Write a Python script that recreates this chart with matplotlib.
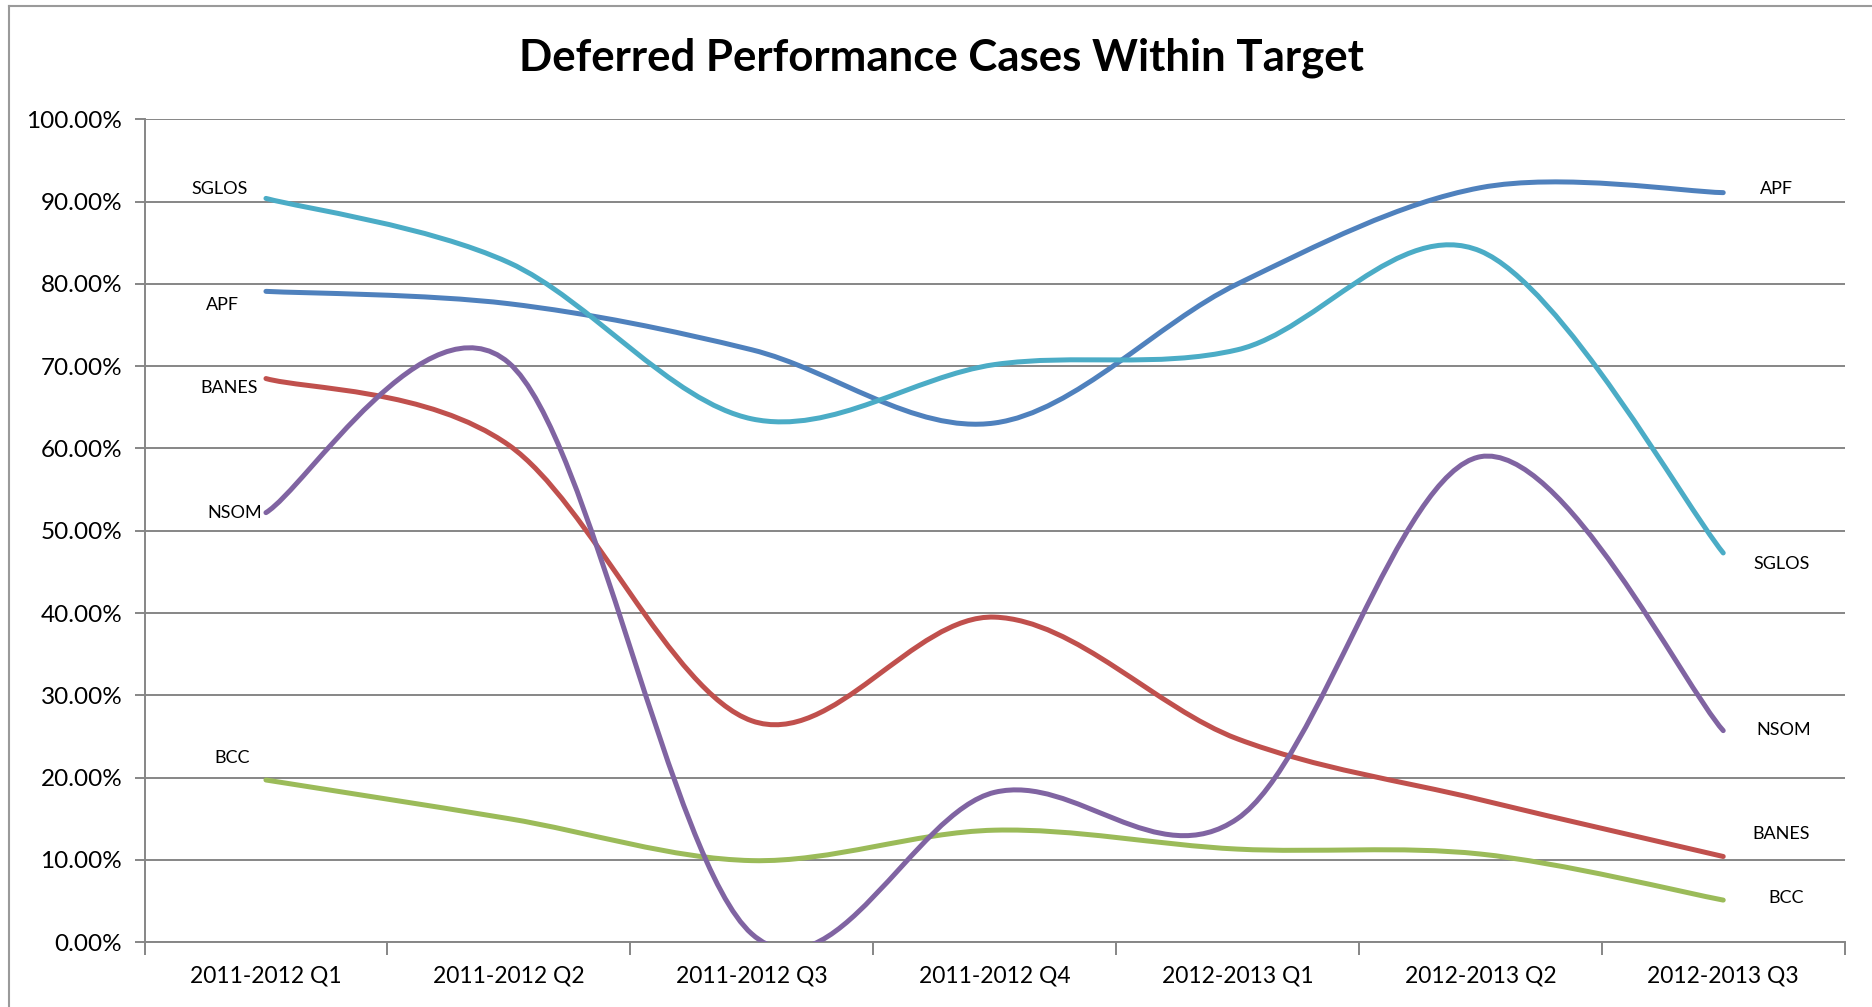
import matplotlib
matplotlib.use("Agg")
import matplotlib.pyplot as plt
import numpy as np
from matplotlib.path import Path
from matplotlib.patches import PathPatch
from matplotlib.lines import Line2D

# data (percent)
quarters = ["2011-2012 Q1", "2011-2012 Q2", "2011-2012 Q3", "2011-2012 Q4",
            "2012-2013 Q1", "2012-2013 Q2", "2012-2013 Q3"]
apf = [79.1, 77.6, 72.0, 63.1, 80.0, 91.7, 91.1]
banes = [68.5, 60.4, 26.9, 39.5, 24.7, 17.3, 10.4]
bcc = [19.7, 15.0, 9.9, 13.6, 11.3, 10.7, 5.1]
nsom = [52.2, 70.4, 1.0, 18.2, 15.0, 59.0, 25.7]
sglos = [90.4, 82.6, 63.6, 70.2, 72.0, 84.0, 47.3]

series_names = ["APF", "BANES", "BCC", "NSOM", "SGLOS"]
series_values = [apf, banes, bcc, nsom, sglos]
colors = ["#4F81BD", "#C0504D", "#9BBB59", "#8064A2", "#4BACC6"]

# label placement (category units, percent)
left_label_pos = {"SGLOS": (-0.19, 91.6), "APF": (-0.18, 77.4), "BANES": (-0.15, 67.3),
                  "NSOM": (-0.13, 52.2), "BCC": (-0.14, 22.4)}
right_label_pos = {"APF": (6.22, 91.6), "SGLOS": (6.24, 46.0), "NSOM": (6.25, 25.8),
                   "BANES": (6.24, 13.1), "BCC": (6.26, 5.4)}


def smooth_path(xs, ys):
    # Excel-like smoothed line: Catmull-Rom as cubic Bezier segments
    pts = np.column_stack([xs, ys]).astype(float)
    n = len(pts)
    verts = [pts[0]]
    codes = [Path.MOVETO]
    for i in range(n - 1):
        p0 = pts[max(i - 1, 0)]
        p1 = pts[i]
        p2 = pts[i + 1]
        p3 = pts[min(i + 2, n - 1)]
        c1 = p1 + (p2 - p0) / 6.0
        c2 = p2 - (p3 - p1) / 6.0
        verts += [c1, c2, p2]
        codes += [Path.CURVE4] * 3
    return Path(verts, codes)


plt.rcParams["font.family"] = ["Lato", "DejaVu Sans"]
fig = plt.figure(figsize=(18.72, 10.07), dpi=100)
ax = fig.add_axes([0.0772, 0.0645, 0.9082, 0.8169])

x = np.arange(len(quarters))
for name, vals, col in zip(series_names, series_values, colors):
    patch = PathPatch(smooth_path(x, vals), facecolor="none", edgecolor=col,
                      lw=3.6, capstyle="round", joinstyle="round", zorder=3)
    ax.add_patch(patch)
    lx, ly = left_label_pos[name]
    ax.text(lx, ly, name, ha="center", va="center", fontsize=13, color="black")
    rx, ry = right_label_pos[name]
    ax.text(rx, ry, name, ha="center", va="center", fontsize=13, color="black")

ax.set_xlim(-0.5, len(quarters) - 0.5)
ax.set_ylim(0, 100)
ax.set_yticks(np.arange(0, 101, 10))
ax.set_yticklabels([f"{v:.2f}%" for v in np.arange(0, 101, 10)], fontsize=17.5)
ax.set_xticks(x)
ax.set_xticklabels(quarters, fontsize=16.5)
ax.set_xticks(np.arange(-0.5, len(quarters), 1.0), minor=True)
ax.tick_params(axis="x", which="major", length=0, pad=17)
ax.tick_params(axis="x", which="minor", length=9, width=1.4, color="#868686")
ax.tick_params(axis="y", length=7, width=1.4, color="#868686", pad=9)

ax.grid(axis="y", color="#868686", lw=1.4)
ax.set_axisbelow(True)
for side in ["top", "right"]:
    ax.spines[side].set_visible(False)
for side in ["left", "bottom"]:
    ax.spines[side].set_color("#868686")
    ax.spines[side].set_linewidth(1.4)

fig.text(0.503, 0.943, "Deferred Performance Cases Within Target",
         ha="center", va="center", fontsize=31.5, fontweight="bold")

# chart border (partly cropped in original)
fig.add_artist(Line2D([0.005, 0.005], [0.0, 0.994], color="#9a9a9a", lw=1.5,
                      transform=fig.transFigure))
fig.add_artist(Line2D([0.005, 1.0], [0.994, 0.994], color="#9a9a9a", lw=1.5,
                      transform=fig.transFigure))

fig.savefig("out.png", dpi=100)
